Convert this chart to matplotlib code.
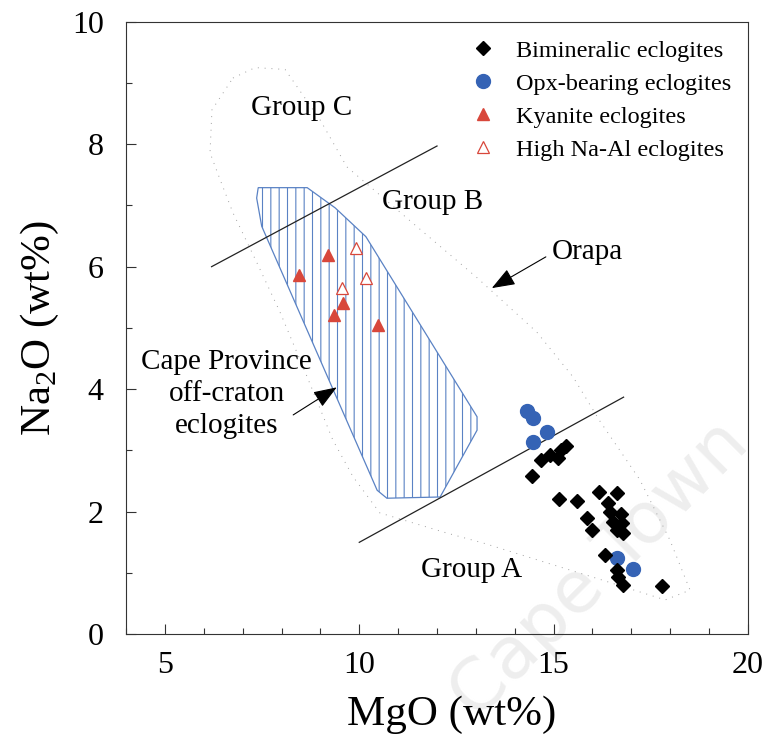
import numpy as np
import matplotlib
matplotlib.use("Agg")
import matplotlib.pyplot as plt
from matplotlib.patches import Polygon
from matplotlib.ticker import MultipleLocator, FixedLocator

plt.rcParams['font.family'] = ['Liberation Serif', 'DejaVu Serif']
plt.rcParams['mathtext.fontset'] = 'custom'
plt.rcParams['mathtext.rm'] = 'Liberation Serif'
plt.rcParams['hatch.linewidth'] = 0.8

# Bimineralic eclogites (MgO, Na2O)
bim_mgo = [14.45, 14.67, 14.91, 15.12, 15.18, 15.31, 15.14, 15.59, 16.17, 16.62, 16.41, 16.45,
           16.73, 15.87, 16.53, 16.75, 15.98, 16.79, 16.62, 16.32, 16.62, 16.66, 16.79, 17.80]
bim_na2o = [2.59, 2.84, 2.92, 2.87, 3.01, 3.08, 2.21, 2.17, 2.32, 2.30, 2.14, 2.00,
            1.97, 1.90, 1.83, 1.81, 1.70, 1.66, 1.70, 1.30, 1.05, 0.94, 0.81, 0.79]
# Opx-bearing eclogites
opx_mgo = [14.31, 14.46, 14.48, 14.82, 16.62, 17.05]
opx_na2o = [3.64, 3.53, 3.14, 3.30, 1.25, 1.06]
# Kyanite eclogites
ky_mgo = [8.45, 9.20, 9.57, 9.35, 10.49]
ky_na2o = [5.87, 6.19, 5.40, 5.21, 5.05]
# High Na-Al eclogites
hna_mgo = [9.91, 10.17, 9.55]
hna_na2o = [6.30, 5.81, 5.65]

# Cape Province off-craton field (hatched)
cape_mgo = [7.40, 8.66, 9.38, 10.17, 13.03, 13.03, 12.08, 10.71, 10.46, 7.49, 7.36]
cape_na2o = [7.29, 7.29, 6.96, 6.49, 3.55, 3.33, 2.24, 2.22, 2.35, 6.66, 7.12]

# Orapa field outline (dotted)
orapa_mgo = [6.75, 7.32, 8.09, 8.99, 9.68, 11.49, 13.03, 14.57, 15.50, 16.19, 17.22, 17.99,
             18.51, 17.87, 16.27, 13.18, 12.26, 10.53, 9.84, 9.32, 8.66, 7.96, 7.37, 6.75,
             6.42, 6.16, 6.21, 6.75]
orapa_na2o = [9.08, 9.25, 9.22, 8.40, 7.63, 6.65, 5.82, 4.93, 4.20, 3.48, 2.52, 1.54,
              0.72, 0.56, 0.88, 1.49, 1.65, 1.98, 2.57, 3.17, 4.20, 5.26, 6.06, 6.88,
              7.42, 7.86, 8.56, 9.08]

# group boundary lines
bc_line_mgo = [6.2, 12.0]
bc_line_na2o = [6.0, 7.97]
ab_line_mgo = [10.0, 16.8]
ab_line_na2o = [1.5, 3.87]

fig = plt.figure(figsize=(7.64, 7.47), dpi=100)
ax = fig.add_axes([0.165, 0.151, 0.814, 0.820])

# watermark of the scanned page
ax.text(16.2, 1.05, "Cape Town", fontsize=52, color='#eeeeee', rotation=45,
        ha='center', va='center', family='DejaVu Sans', zorder=0, clip_on=False)

ax.plot(orapa_mgo, orapa_na2o, color='#a0a0a0', lw=0.7, ls=(0, (1, 6)), zorder=1)

cape = Polygon(np.column_stack([cape_mgo, cape_na2o]), closed=True, facecolor='none',
               edgecolor='#5a82c4', hatch='||', lw=0.9, zorder=2)
ax.add_patch(cape)

ax.plot(bc_line_mgo, bc_line_na2o, color='#222222', lw=0.9, zorder=3)
ax.plot(ab_line_mgo, ab_line_na2o, color='#222222', lw=0.9, zorder=3)

ax.plot(bim_mgo, bim_na2o, ls='none', marker='D', ms=7, color='black',
        label='Bimineralic eclogites', zorder=5)
ax.plot(opx_mgo, opx_na2o, ls='none', marker='o', ms=10, color='#3563b5',
        label='Opx-bearing eclogites', zorder=4)
ax.plot(ky_mgo, ky_na2o, ls='none', marker='^', ms=8.5, color='#d8473b',
        label='Kyanite eclogites', zorder=5)
ax.plot(hna_mgo, hna_na2o, ls='none', marker='^', ms=8.5, mfc='white', mec='#d8473b',
        mew=0.9, label='High Na-Al eclogites', zorder=5)

leg = ax.legend(loc='upper left', bbox_to_anchor=(0.527, 0.998), frameon=False,
                fontsize=17.5, handlelength=1.0, handletextpad=0.85, labelspacing=0.45,
                borderpad=0.2, numpoints=1)

arrow = dict(arrowstyle='-|>,head_length=0.8,head_width=0.3', color='black', lw=0.8,
             mutation_scale=18, shrinkA=0, shrinkB=0)

# field labels
ax.text(8.52, 8.59, "Group C", fontsize=21, ha='center', va='center')
ax.text(11.88, 7.06, "Group B", fontsize=21, ha='center', va='center')
ax.text(12.89, 1.05, "Group A", fontsize=21, ha='center', va='center')
ax.text(15.88, 6.24, "Orapa", fontsize=21, ha='center', va='center')
ax.annotate("", xy=(13.41, 5.65), xytext=(14.80, 6.16), arrowprops=arrow)
ax.text(6.59, 3.92, "Cape Province\noff-craton\neclogites", fontsize=21,
        ha='center', va='center', linespacing=1.3)
ax.annotate("", xy=(9.42, 4.03), xytext=(8.30, 3.58), arrowprops=arrow)

ax.set_xlim(4, 20)
ax.set_ylim(0, 10)
ax.xaxis.set_major_locator(FixedLocator([5, 10, 15, 20]))
ax.xaxis.set_minor_locator(MultipleLocator(1))
ax.yaxis.set_major_locator(MultipleLocator(2))
ax.yaxis.set_minor_locator(MultipleLocator(1))
ax.tick_params(which='both', direction='in', top=False, right=False, labelsize=23,
               width=0.8, color='#333333')
ax.tick_params(axis='x', which='major', length=7, pad=12)
ax.tick_params(axis='y', which='major', length=7, pad=16)
ax.tick_params(which='minor', length=4)
for sp in ax.spines.values():
    sp.set_linewidth(0.8)
    sp.set_color('#333333')

ax.set_xlabel("MgO (wt%)", fontsize=31)
ax.xaxis.set_label_coords(0.524, -0.100)
ax.set_ylabel("Na$_\\mathregular{2}$O (wt%)", fontsize=31, labelpad=8)

fig.savefig("out.png", dpi=100)
